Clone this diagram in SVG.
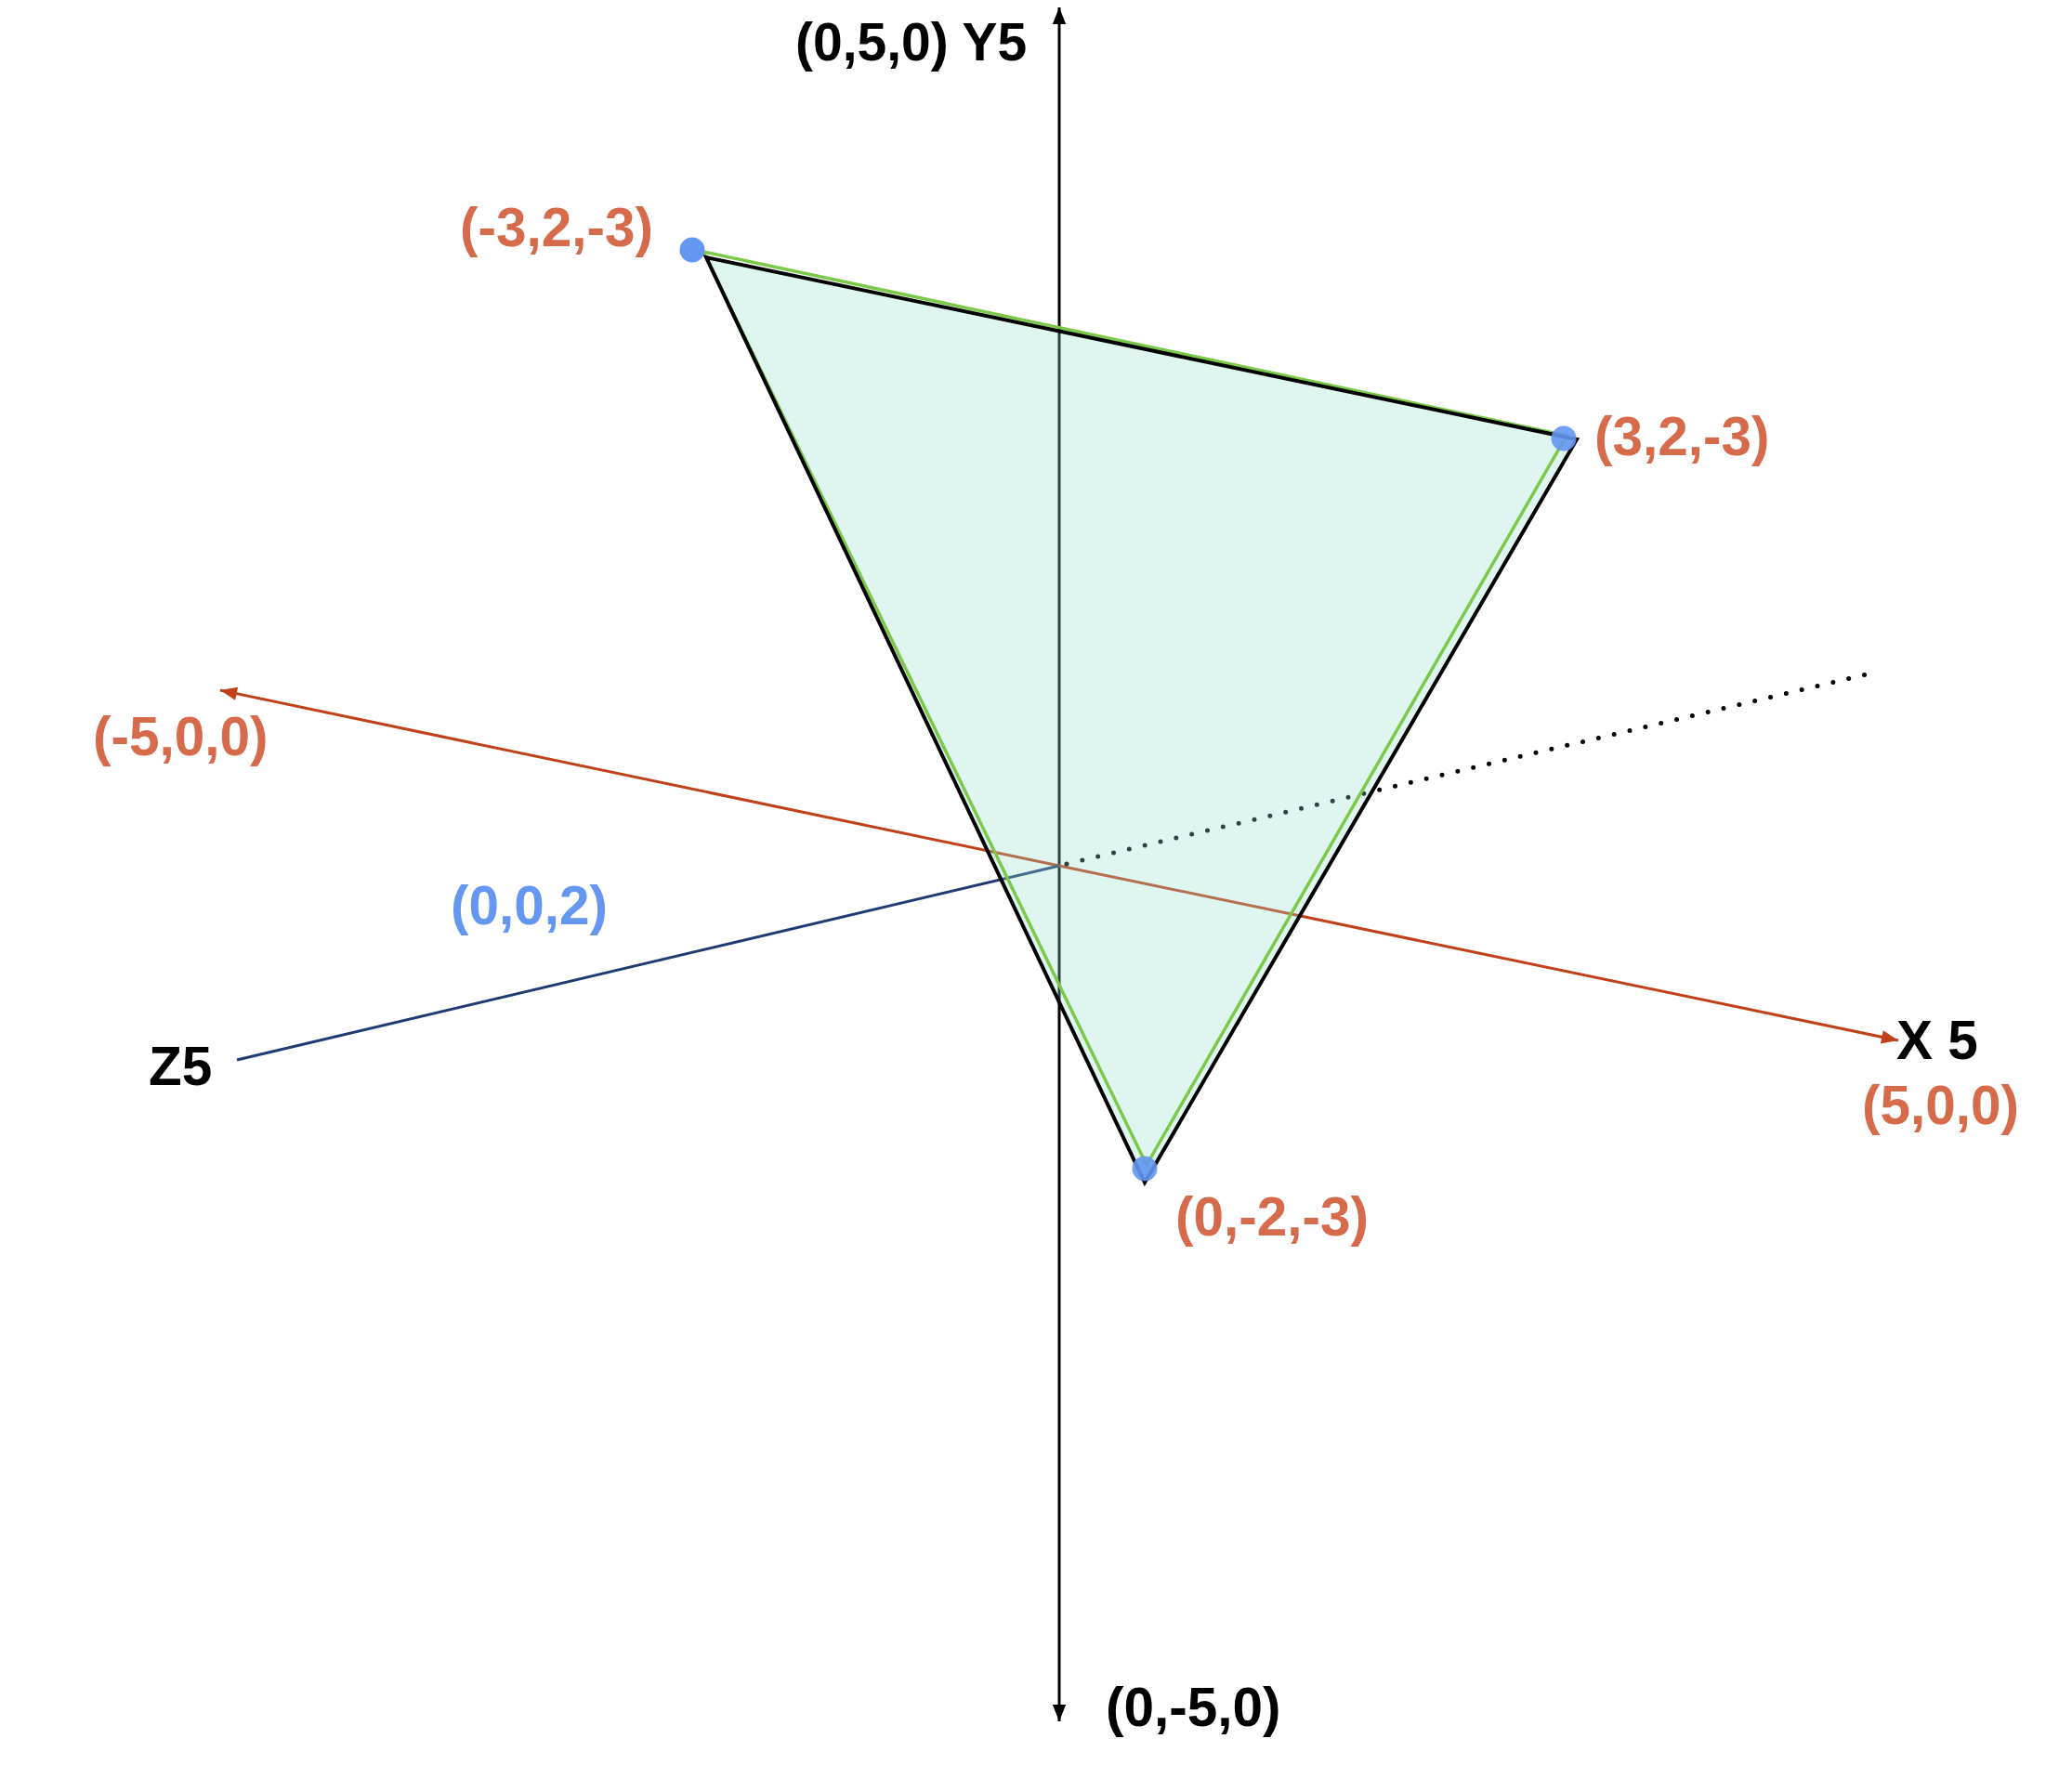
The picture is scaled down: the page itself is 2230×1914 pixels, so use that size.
<svg xmlns="http://www.w3.org/2000/svg" width="2230" height="1914" viewBox="0 0 2230 1914">
<style>
text{font-family:"Liberation Sans",Arial,sans-serif;font-weight:bold;font-size:58.5px}
.blk{fill:#000}
.org{fill:#D56B4B}
.blu{fill:#6496F2}
.dot{fill:#6496F2}
</style>
<defs>
<marker id="ab" viewBox="0 0 10 10" refX="10" refY="5" markerWidth="6" markerHeight="6" markerUnits="strokeWidth" orient="auto">
<path d="M0,1 L10,5 L0,9 z" fill="#000"/>
</marker>
<marker id="ar" viewBox="0 0 10 10" refX="10" refY="5" markerWidth="7" markerHeight="6" markerUnits="strokeWidth" orient="auto">
<path d="M0,1 L10,5 L0,9 z" fill="#C0401A"/>
</marker>
</defs>
<g id="connectors">
<line id="y-axis-up" x1="1140" y1="932" x2="1140" y2="8" stroke="#000" stroke-width="3" marker-end="url(#ab)"/>
<line id="y-axis-down" x1="1140" y1="932" x2="1140" y2="1853" stroke="#000" stroke-width="3" marker-end="url(#ab)"/>
<line id="x-axis-neg" x1="1140" y1="932" x2="237" y2="743" stroke="#C0401A" stroke-width="3" marker-end="url(#ar)"/>
<line id="x-axis-pos" x1="1140" y1="932" x2="2043" y2="1120" stroke="#C0401A" stroke-width="3" marker-end="url(#ar)"/>
<line id="z-axis" x1="255" y1="1141" x2="1140" y2="932" stroke="#1F3A70" stroke-width="3"/>
<line id="z-axis-back" x1="1148" y1="930" x2="2009" y2="726" stroke="#000" stroke-width="5" stroke-linecap="round" stroke-dasharray="0 17.3"/>
</g>
<g id="triangle">
<polygon points="760,277 1697,473 1232,1273" fill="#94DECA" fill-opacity="0.3"/>
<polygon points="757,271 1686,469 1234,1254" fill="none" stroke="#7CC94A" stroke-width="3.5" stroke-linejoin="miter"/>
<polygon points="760,277 1697,473 1232,1273" fill="none" stroke="#000" stroke-width="4" stroke-linejoin="miter"/>
</g>
<g id="vertex-a"><circle class="dot" cx="745" cy="269" r="13.5"/><text class="org" x="495" y="265">(-3,2,-3)</text></g>
<g id="vertex-b"><circle class="dot" cx="1683" cy="472" r="13.5" fill-opacity="0.9"/><text class="org" x="1716" y="490">(3,2,-3)</text></g>
<g id="vertex-c"><circle class="dot" cx="1232" cy="1258" r="13.5" fill-opacity="0.9"/><text class="org" x="1265" y="1330">(0,-2,-3)</text></g>
<g id="label-y-top"><text class="blk" x="856" y="65" style="font-size:57px">(0,5,0) Y5</text></g>
<g id="label-y-bottom"><text class="blk" x="1190" y="1858">(0,-5,0)</text></g>
<g id="label-x-neg"><text class="org" x="100" y="813">(-5,0,0)</text></g>
<g id="label-x-pos"><text class="blk" x="2041" y="1140">X 5</text><text class="org" x="2004" y="1210">(5,0,0)</text></g>
<g id="label-z"><text class="blk" x="160" y="1168">Z5</text></g>
<g id="label-origin"><text class="blu" x="485" y="995">(0,0,2)</text></g>
</svg>
